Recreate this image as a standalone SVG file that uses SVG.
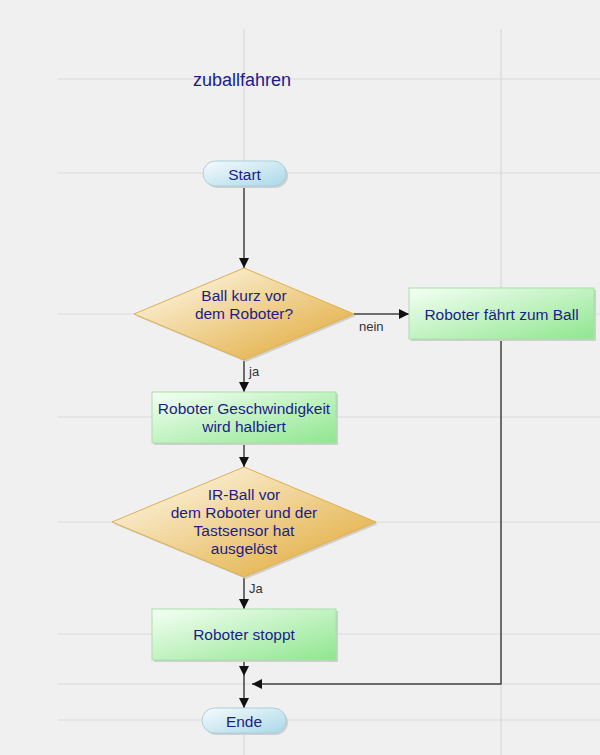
<svg xmlns="http://www.w3.org/2000/svg" width="600" height="755" viewBox="0 0 600 755">
<defs>
<linearGradient id="gGreen" x1="0" y1="0" x2="1" y2="1">
<stop offset="0" stop-color="#f4fff4"/>
<stop offset="1" stop-color="#8fe68f"/>
</linearGradient>
<linearGradient id="gGold" x1="0" y1="0" x2="1" y2="1">
<stop offset="0.15" stop-color="#fbf0d6"/>
<stop offset="0.85" stop-color="#e4b24c"/>
</linearGradient>
<linearGradient id="gBlue" x1="0" y1="0" x2="1" y2="1">
<stop offset="0" stop-color="#f6fbfd"/>
<stop offset="1" stop-color="#a9d8e8"/>
</linearGradient>
<marker id="arr" viewBox="0 0 10 10" refX="10" refY="5" markerWidth="10" markerHeight="10" markerUnits="userSpaceOnUse" orient="auto">
<path d="M0,0 L10,5 L0,10 z" fill="#111"/>
</marker>
</defs>
<style>
.grid{stroke:#d9d9d9;stroke-width:1.2;fill:none}
.shadow{fill:#cfcfcf}
.t{font-family:"Liberation Sans",Arial,sans-serif;font-size:15.5px;fill:#1c1c8a;text-anchor:middle}
.lbl{font-family:"Liberation Sans",Arial,sans-serif;font-size:13px;fill:#333}
.edge{stroke:#444;stroke-width:1.5;fill:none}
.box{fill:url(#gGreen);stroke:#a8e0a8;stroke-width:1}
.dia{fill:url(#gGold);stroke:#deb050;stroke-width:1}
.pill{fill:url(#gBlue);stroke:#a8d0dc;stroke-width:1}
</style>
<rect width="600" height="755" fill="#f0f0f0"/>
<g id="grid">
<line class="grid" x1="58" y1="79" x2="600" y2="79"/>
<line class="grid" x1="58" y1="173" x2="600" y2="173"/>
<line class="grid" x1="58" y1="314" x2="600" y2="314"/>
<line class="grid" x1="58" y1="417" x2="600" y2="417"/>
<line class="grid" x1="58" y1="522" x2="600" y2="522"/>
<line class="grid" x1="58" y1="634" x2="600" y2="634"/>
<line class="grid" x1="58" y1="684" x2="600" y2="684"/>
<line class="grid" x1="58" y1="720" x2="600" y2="720"/>
<line class="grid" x1="244" y1="29" x2="244" y2="755"/>
<line class="grid" x1="501" y1="29" x2="501" y2="755"/>
</g>
<text id="title" x="193" y="86" class="t" style="text-anchor:start;font-size:18px">zuballfahren</text>
<g id="connectors">
<line class="edge" x1="244" y1="186" x2="244" y2="268" marker-end="url(#arr)"/>
<line class="edge" x1="354" y1="314" x2="409" y2="314" marker-end="url(#arr)"/>
<text class="lbl" x="359" y="331">nein</text>
<line class="edge" x1="244" y1="360" x2="244" y2="392" marker-end="url(#arr)"/>
<text class="lbl" x="249" y="376">ja</text>
<line class="edge" x1="244" y1="443" x2="244" y2="467" marker-end="url(#arr)"/>
<line class="edge" x1="244" y1="577" x2="244" y2="609" marker-end="url(#arr)"/>
<text class="lbl" x="249" y="593">Ja</text>
<line class="edge" x1="244" y1="660" x2="244" y2="676" marker-end="url(#arr)"/>
<polyline class="edge" points="501,339 501,684 252,684" marker-end="url(#arr)"/>
<line class="edge" x1="244" y1="676" x2="244" y2="708" marker-end="url(#arr)"/>
</g>
<g id="start">
<rect class="shadow" x="205" y="163" width="83" height="25" rx="12.5"/>
<rect class="pill" x="203" y="161" width="83" height="25" rx="12.5"/>
<text class="t" x="244.5" y="179.5">Start</text>
</g>
<g id="decision1">
<polygon class="shadow" points="246,270 356,316 246,362 136,316"/>
<polygon class="dia" points="244,268 354,314 244,360 134,314"/>
<text class="t" x="244" y="301">Ball kurz vor</text>
<text class="t" x="244" y="319">dem Roboter?</text>
</g>
<g id="drive">
<rect class="shadow" x="411" y="290" width="185" height="51"/>
<rect class="box" x="409" y="288" width="185" height="51"/>
<text class="t" x="501.5" y="319.5">Roboter fährt zum Ball</text>
</g>
<g id="halve">
<rect class="shadow" x="154" y="394" width="184" height="51"/>
<rect class="box" x="152" y="392" width="184" height="51"/>
<text class="t" x="244" y="414">Roboter Geschwindigkeit</text>
<text class="t" x="244" y="432">wird halbiert</text>
</g>
<g id="decision2">
<polygon class="shadow" points="246,469 378,524 246,579 114,524"/>
<polygon class="dia" points="244,467 376,522 244,577 112,522"/>
<text class="t" x="244" y="500">IR-Ball vor</text>
<text class="t" x="244" y="518">dem Roboter und der</text>
<text class="t" x="244" y="536">Tastsensor hat</text>
<text class="t" x="244" y="554">ausgelöst</text>
</g>
<g id="stop">
<rect class="shadow" x="154" y="611" width="184" height="51"/>
<rect class="box" x="152" y="609" width="184" height="51"/>
<text class="t" x="244" y="640">Roboter stoppt</text>
</g>
<g id="end">
<rect class="shadow" x="204" y="710" width="84" height="25" rx="12.5"/>
<rect class="pill" x="202" y="708" width="84" height="25" rx="12.5"/>
<text class="t" x="244" y="726.5">Ende</text>
</g>
</svg>
